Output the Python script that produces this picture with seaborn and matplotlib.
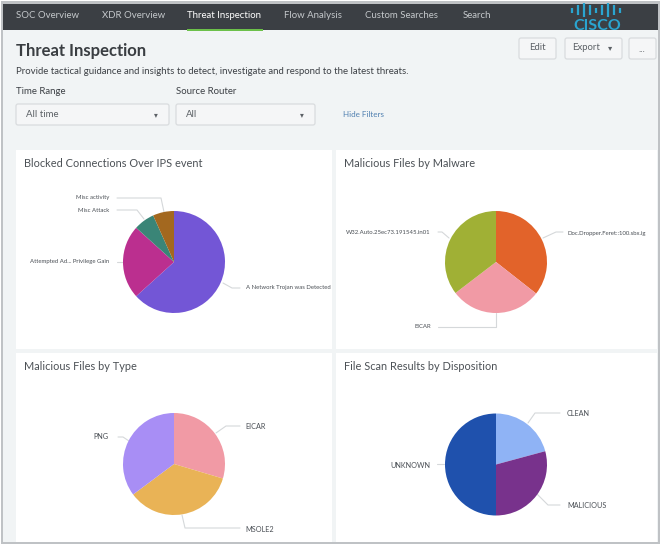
import matplotlib
matplotlib.use('Agg')
import matplotlib.pyplot as plt
from matplotlib.patches import Rectangle, FancyBboxPatch
import seaborn as sns

nav_items = ['SOC Overview', 'XDR Overview', 'Threat Inspection', 'Flow Analysis', 'Custom Searches', 'Search']

ips_labels = ['A Network Trojan was Detected', 'Attempted Ad... Privilege Gain', 'Misc Attack', 'Misc activity']
ips_values = [63.3, 23.4, 6.6, 6.7]

malware_labels = ['Doc.Dropper.Feret::100.sbx.ig', 'EICAR', 'W32.Auto.25ec73.191545.in01']
malware_values = [35.6, 29.0, 35.4]

type_labels = ['EICAR', 'MSOLE2', 'PNG']
type_values = [29.6, 35.2, 35.2]

disposition_labels = ['CLEAN', 'MALICIOUS', 'UNKNOWN']
disposition_values = [20.8, 29.2, 50.0]

W, H = 666, 550
TEXT = '#4a4f55'
LEADER = '#d5d8da'

sns.set_theme(style='white')
plt.rcParams['font.family'] = ['Lato', 'DejaVu Sans']

fig = plt.figure(figsize=(W / 100, H / 100), dpi=100, facecolor='white')

# whole figure is one axes in pixel coordinates for the dashboard chrome
bg = fig.add_axes([0, 0, 1, 1])
bg.set_xlim(0, W)
bg.set_ylim(H, 0)
bg.axis('off')


def box(x0, y0, x1, y1, color, z=1):
    bg.add_patch(Rectangle((x0, y0), x1 - x0, y1 - y0, facecolor=color, edgecolor='none', zorder=z))


def button(x0, y0, x1, y1):
    bg.add_patch(FancyBboxPatch((x0, y0), x1 - x0, y1 - y0, boxstyle='round,pad=0,rounding_size=2',
                                facecolor='#f5f6f7', edgecolor='#d9dcde', linewidth=0.9, zorder=3))


# frame and page
box(1, 1, 660, 544, '#bfc2c5')
box(3, 4, 658, 542, '#f1f4f5', 2)
box(3, 4, 658, 30, '#3b3f44', 3)

# nav bar
nav_x = [16, 102, 187, 284, 365, 463]
for name, x in zip(nav_items, nav_x):
    active = name == 'Threat Inspection'
    bg.text(x, 15.5, name, color='white' if active else '#c4c8cb', fontsize=6.9, va='center', zorder=5)
box(187, 29, 263, 31, '#6cc04a', 5)

# cisco logo
logo_x = [572, 578, 584, 590, 596, 602, 608, 614, 620]
logo_h = [2.5, 5, 7, 5, 2.5, 5, 7, 5, 2.5]
for x, h in zip(logo_x, logo_h):
    bg.plot([x, x], [10 - h, 10 + h], color='#2aa5d0', lw=1.6, solid_capstyle='butt', zorder=5)
logo = bg.text(597, 25.5, 'CISCO', color='#2aa5d0', fontsize=11.5, fontweight='bold', ha='center', va='center', zorder=5)
logo.set_clip_path(Rectangle((3, 4), 655, 26, transform=bg.transData))

# heading
bg.text(16, 51, 'Threat Inspection', color='#3a3e42', fontsize=12, fontweight='bold', va='center', zorder=5)
bg.text(16, 72, 'Provide tactical guidance and insights to detect, investigate and respond to the latest threats.',
        color='#3c4045', fontsize=6.97, va='center', zorder=5)

# buttons
for x0, x1 in [(519, 556), (565, 622), (629, 656)]:
    button(x0, 38, x1, 59)
bg.text(537, 48, 'Edit', color='#5c6166', fontsize=6.9, ha='center', va='center', zorder=5)
bg.text(586, 48, 'Export', color='#5c6166', fontsize=6.9, ha='center', va='center', zorder=5)
bg.text(610, 48, '▾', color='#5c6166', fontsize=6, ha='center', va='center', zorder=5, family='DejaVu Sans')
bg.text(642, 50, '...', color='#5c6166', fontsize=6.9, ha='center', va='center', zorder=5)

# filters
for x, label, value, x1 in [(16, 'Time Range', 'All time', 169), (176, 'Source Router', 'All', 315)]:
    bg.text(x, 92, label, color='#3c4045', fontsize=6.9, va='center', zorder=5)
    button(x, 104, x1, 125)
    bg.text(x + 10, 114.5, value, color='#5c6166', fontsize=6.9, va='center', zorder=5)
    bg.text(x1 - 13, 114.5, '▾', color='#5c6166', fontsize=5.5, ha='center', va='center', zorder=5, family='DejaVu Sans')
bg.text(343, 114.5, 'Hide Filters', color='#4f7fb0', fontsize=5.8, va='center', zorder=5)

# panels
for x0, y0, x1, y1 in [(16, 150, 332, 349), (336, 150, 657, 349), (16, 353, 332, 542), (336, 353, 657, 542)]:
    box(x0, y0, x1, y1, 'white', 4)


def draw_panel(title, title_xy, labels, values, colors, center, texts, leaders, label_size):
    bg.text(title_xy[0], title_xy[1], title, color='#4c5156', fontsize=7.95, va='center', zorder=5)
    r = 51
    cx, cy = center
    ax = fig.add_axes([(cx - r) / W, 1 - (cy + r) / H, 2 * r / W, 2 * r / H])
    ax.pie(values, colors=colors, startangle=90, counterclock=False, radius=1.0,
           wedgeprops={'linewidth': 0})
    ax.set_xlim(-1, 1)
    ax.set_ylim(-1, 1)
    for label, (x, y, ha), line in zip(labels, texts, leaders):
        bg.text(x, y, label, color=TEXT, fontsize=label_size, ha=ha, va='center', zorder=5)
        bg.plot([p[0] for p in line], [p[1] for p in line], color=LEADER, lw=0.8, zorder=5)


draw_panel('Blocked Connections Over IPS event', (24, 163.5), ips_labels, ips_values,
           sns.color_palette(['#7356d6', '#bb2f8f', '#3a8577', '#a3681f']), (174, 262),
           [(245.5, 288, 'left'), (109, 262, 'right'), (109, 210.5, 'right'), (109, 197.5, 'right')],
           [[(223, 283), (232, 288), (240, 288)], [(117, 262), (123, 262)],
            [(117, 210), (137, 210), (144, 219)], [(117, 198), (161, 198), (164, 212)]], 4.3)

draw_panel('Malicious Files by Malware', (344, 163.5), malware_labels, malware_values,
           sns.color_palette(['#e2632a', '#f19aa5', '#a0b035']), (496, 262),
           [(567, 233, 'left'), (431, 327, 'right'), (431, 232.5, 'right')],
           [[(543, 238), (556, 232), (563, 232)], [(438, 327), (496, 327), (496, 313)],
            [(438, 232), (442, 232), (449, 238)]], 4.3)

draw_panel('Malicious Files by Type', (24, 366.5), type_labels, type_values,
           sns.color_palette(['#f19aa5', '#e9b356', '#a88ef5']), (174, 464),
           [(245.5, 426.5, 'left'), (245.5, 529, 'left'), (109, 436.5, 'right')],
           [[(216, 433), (226, 426), (240, 426)], [(182, 515), (185, 528), (240, 528)],
            [(118, 437), (123, 437), (129, 441)]], 5.2)

draw_panel('File Scan Results by Disposition', (344, 366.5), disposition_labels, disposition_values,
           sns.color_palette(['#8fb3f5', '#78328c', '#1f51ad']), (496, 464.5),
           [(567, 414, 'left'), (567, 505, 'left'), (430, 465, 'right')],
           [[(528, 423), (535, 413), (560, 413)], [(537, 494), (548, 505), (560, 505)],
            [(437, 464), (444, 464)]], 5.2)

fig.savefig('out.png', dpi=100)
